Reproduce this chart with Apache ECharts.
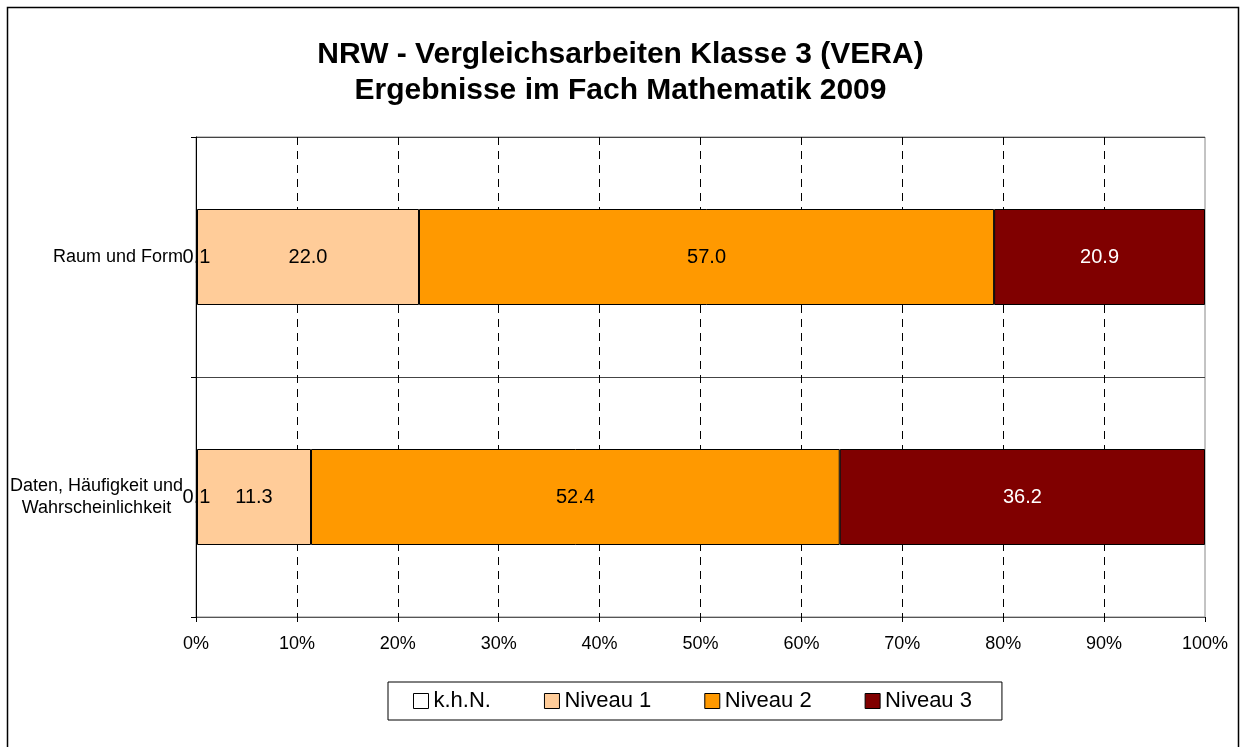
<!DOCTYPE html>
<html>
<head>
<meta charset="utf-8">
<title>NRW - VERA 2009 Mathematik</title>
<script src="https://cdn.jsdelivr.net/npm/echarts@6/dist/echarts.min.js"></script>
<style>
  html, body { margin: 0; padding: 0; background: #fff; }
  #chart { width: 1241px; height: 747px; }
</style>
</head>
<body>
<div id="chart"></div>
<script>
// Daten aus der Grafik (Prozent je Kompetenzbereich)
var categories = ["Raum und Form", "Daten, Häufigkeit und\nWahrscheinlichkeit"];
var khn = [0.1, 0.1];
var niveau1 = [22.0, 11.3];
var niveau2 = [57.0, 52.4];
var niveau3 = [20.9, 36.2];
var seriesNames = ["k.h.N.", "Niveau 1", "Niveau 2", "Niveau 3"];
var seriesColors = ["#ffffff", "#ffcc99", "#ff9900", "#800000"];
var labelColors = ["#000", "#000", "#000", "#fff"];

var font = "Liberation Sans, Arial, sans-serif";

function makeSeries(i, data) {
  return {
    name: seriesNames[i],
    type: "bar",
    stack: "total",
    barWidth: "40%",
    data: data,
    itemStyle: { color: seriesColors[i], borderColor: "#000", borderWidth: 1 },
    label: {
      show: true,
      position: "inside",
      color: labelColors[i],
      fontFamily: font,
      fontSize: 20,
      formatter: function (p) { return p.value.toFixed(1); }
    }
  };
}

var myChart = echarts.init(document.getElementById("chart"));
myChart.setOption({
  animation: false,
  textStyle: { fontFamily: font },
  title: {
    text: "NRW - Vergleichsarbeiten Klasse 3 (VERA)\nErgebnisse im Fach Mathematik 2009",
    left: "center",
    top: 32,
    textStyle: { fontSize: 30, fontWeight: "bold", color: "#000", lineHeight: 36, fontFamily: font }
  },
  legend: {
    left: 388,
    top: 682,
    padding: [8, 30, 8, 25],
    itemGap: 53,
    itemWidth: 15,
    itemHeight: 15,
    borderColor: "#000",
    borderWidth: 1,
    icon: "rect",
    itemStyle: { borderColor: "#000", borderWidth: 1 },
    textStyle: { fontSize: 22, color: "#000", fontFamily: font },
    data: seriesNames
  },
  grid: {
    left: 196,
    right: 36,
    top: 137,
    bottom: 130,
    show: true,
    borderColor: "#888",
    borderWidth: 1
  },
  xAxis: {
    type: "value",
    min: 0,
    max: 100,
    interval: 10,
    axisLine: { show: true, lineStyle: { color: "#555", width: 1 } },
    axisTick: { show: true, length: 5, lineStyle: { color: "#000" } },
    axisLabel: { formatter: "{value}%", fontSize: 18, color: "#000", margin: 18 },
    splitLine: {
      show: true,
      showMinLine: false,
      showMaxLine: false,
      lineStyle: { color: "#000", type: [8, 6], width: 1 }
    }
  },
  yAxis: {
    type: "category",
    inverse: true,
    data: categories,
    axisLine: { show: true, lineStyle: { color: "#000", width: 1 } },
    axisTick: { show: true, length: 5, lineStyle: { color: "#000" } },
    axisLabel: {
      margin: 13,
      fontSize: 18,
      color: "#000",
      formatter: function (v) {
        return v.split("\n").map(function (l) { return "{c|" + l + "}"; }).join("\n");
      },
      rich: { c: { align: "center", fontSize: 18, color: "#000", lineHeight: 22, fontFamily: font } }
    },
    splitLine: { show: true, lineStyle: { color: "#444", width: 1 } }
  },
  graphic: [
    {
      type: "rect",
      shape: { x: 7.5, y: 7.5, width: 1231, height: 780 },
      style: { fill: null, stroke: "#000", lineWidth: 1.5 },
      silent: true
    }
  ],
  series: [
    makeSeries(0, khn),
    makeSeries(1, niveau1),
    makeSeries(2, niveau2),
    makeSeries(3, niveau3)
  ]
});
</script>
</body>
</html>
